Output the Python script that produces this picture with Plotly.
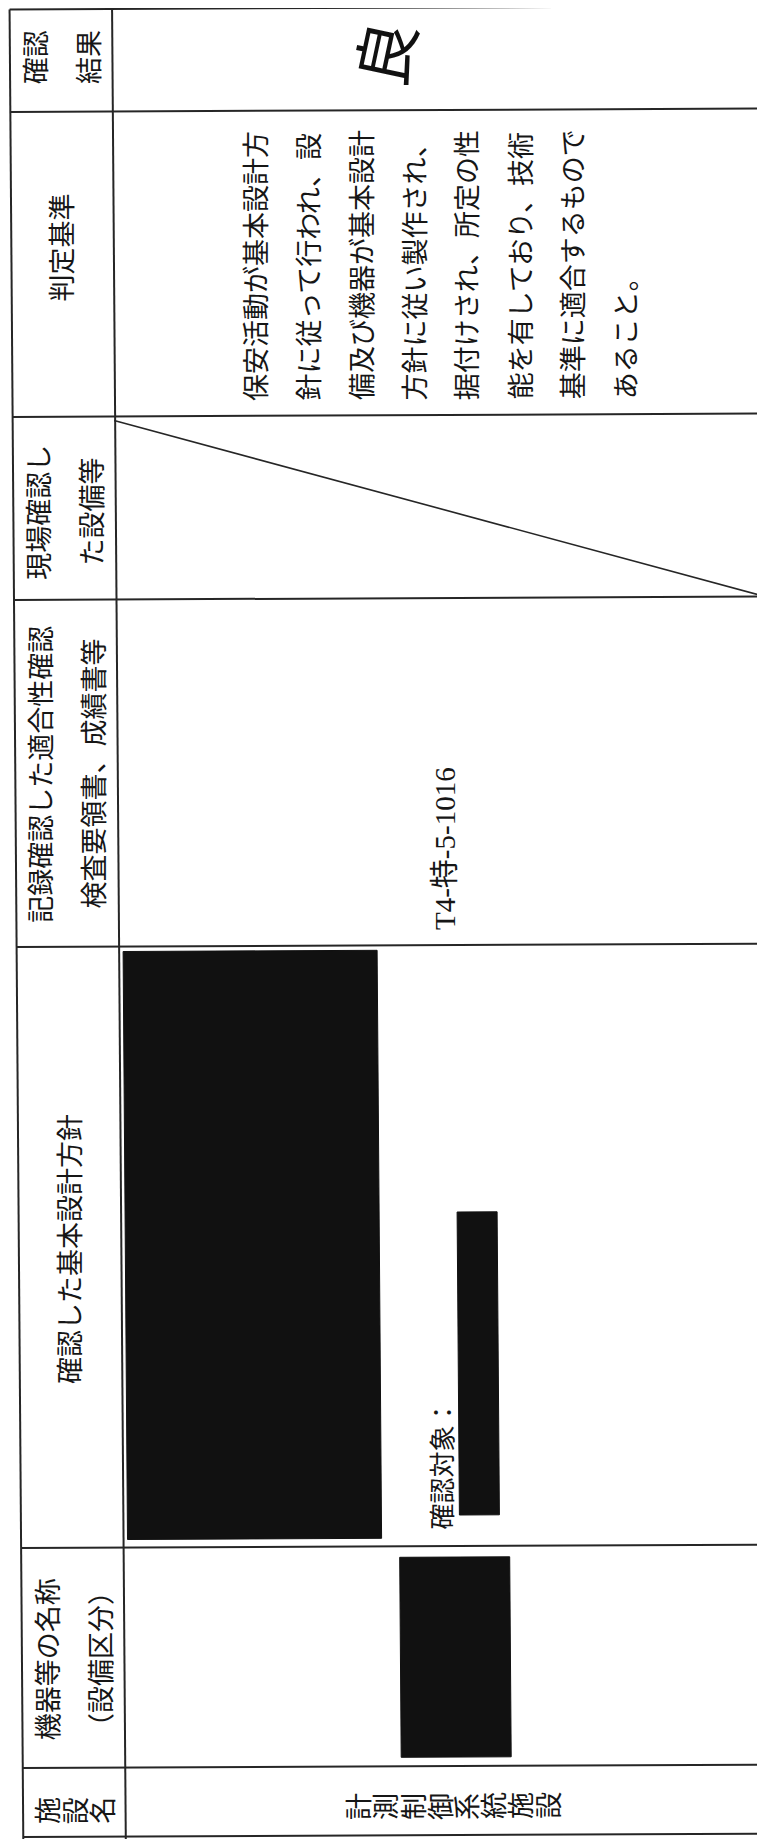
import plotly.graph_objects as go

W, H = 765, 1839
PAD = 8  # default page (body) margin of the browser
# slight skew of the scanned page
SX, SY = 0.0075, 0.0045


def P(u, v):
    return u + SX * v, v - SY * u


FONT = "Noto Sans CJK JP, Noto Sans CJK SC, sans-serif"
SERIF = "Liberation Serif, DejaVu Serif, Noto Sans CJK JP, serif"
INK = "#161616"
LINE = "#262626"

# ---- table content ----
row_edges = [9.5, 112, 417, 600, 947, 1548, 1768, 1837]
col_edges = [9.5, 112, 760]
row_centers = [57, 248, 512, 774, 1249, 1659]

header_lines = [
    ["確認", "結果"],
    ["判定基準"],
    ["現場確認し", "た設備等"],
    ["記録確認した適合性確認", "検査要領書、成績書等"],
    ["確認した基本設計方針"],
    ["機器等の名称", "（設備区分）"],
]
facility_header = ["施", "設", "名"]
result_text = "良"
criteria_lines = [
    "保安活動が基本設計方",
    "針に従って行われ、設",
    "備及び機器が基本設計",
    "方針に従い製作され、",
    "据付けされ、所定の性",
    "能を有しており、技術",
    "基準に適合するもので",
    "あること。",
]
record_text = "T4-特-5-1016"
target_label = "確認対象："
facility_name = "計測制御系統施設"
redactions = [(116, 370, 952, 1540), (448, 488, 1214, 1517), (388, 498, 1559, 1759)]

fig = go.Figure()
fig.add_trace(go.Scatter(x=[PAD, W], y=[PAD, H], mode="markers",
                         marker=dict(opacity=0), hoverinfo="skip", showlegend=False))

shapes = []


def seg(u0, v0, u1, v1, width=2.0, color=LINE):
    x0, y0 = P(u0, v0)
    x1, y1 = P(u1, v1)
    shapes.append(dict(type="line", xref="x", yref="y", x0=x0, y0=y0, x1=x1, y1=y1,
                       line=dict(color=color, width=width)))


# horizontal rules
for v in row_edges:
    seg(col_edges[0], v, W + 20, v)
# vertical rules
for u in col_edges:
    seg(u, row_edges[0], u, H + 20)
# diagonal slash in the 現場確認 row
seg(111, 421, 757, 599, width=1.6)

# redaction boxes
for (u0, u1, v0, v1) in redactions:
    pts = [P(u0, v0), P(u1, v0), P(u1, v1), P(u0, v1)]
    path = "M " + " L ".join(f"{x:.1f},{y:.1f}" for x, y in pts) + " Z"
    shapes.append(dict(type="path", xref="x", yref="y", path=path,
                       fillcolor="#111111", line=dict(color="#111111", width=1)))

ann = []


def txt(u, v, s, size=27, xa="center", ya="middle", angle=-90, family=FONT, color=INK):
    x, y = P(u, v)
    ann.append(dict(x=x, y=y, xref="x", yref="y", text=s, showarrow=False,
                    textangle=angle, xanchor=xa, yanchor=ya,
                    font=dict(family=family, size=size, color=color)))


# header column
for lines, vc in zip(header_lines, row_centers):
    if len(lines) == 1:
        txt(59, vc, lines[0])
    else:
        txt(34, vc, lines[0])
        txt(87, vc, lines[1])
for i, ch in enumerate(facility_header):
    txt(33.5 + 27.5 * i, 1811, ch)

# result
txt(382, 54, result_text, size=64, angle=-78, color="#111111")

# criteria body (bottom aligned in rotated frame)
for i, line in enumerate(criteria_lines):
    txt(252 + 52.8 * i, 404, line, ya="bottom")

# record document
txt(437.5, 934, record_text, size=29, ya="bottom", family=SERIF)

# target label
txt(429, 1534, target_label, size=26, ya="bottom")

# facility name
for i, ch in enumerate(facility_name):
    txt(344 + 27.1 * i, 1808, ch)

fig.update_layout(
    width=W - PAD, height=H - PAD,
    margin=dict(l=0, r=0, t=0, b=0),
    paper_bgcolor="white", plot_bgcolor="white",
    xaxis=dict(range=[PAD, W], visible=False, fixedrange=True),
    yaxis=dict(range=[H, PAD], visible=False, fixedrange=True),
    shapes=shapes, annotations=ann, showlegend=False,
)

fig.write_html("out.html")
